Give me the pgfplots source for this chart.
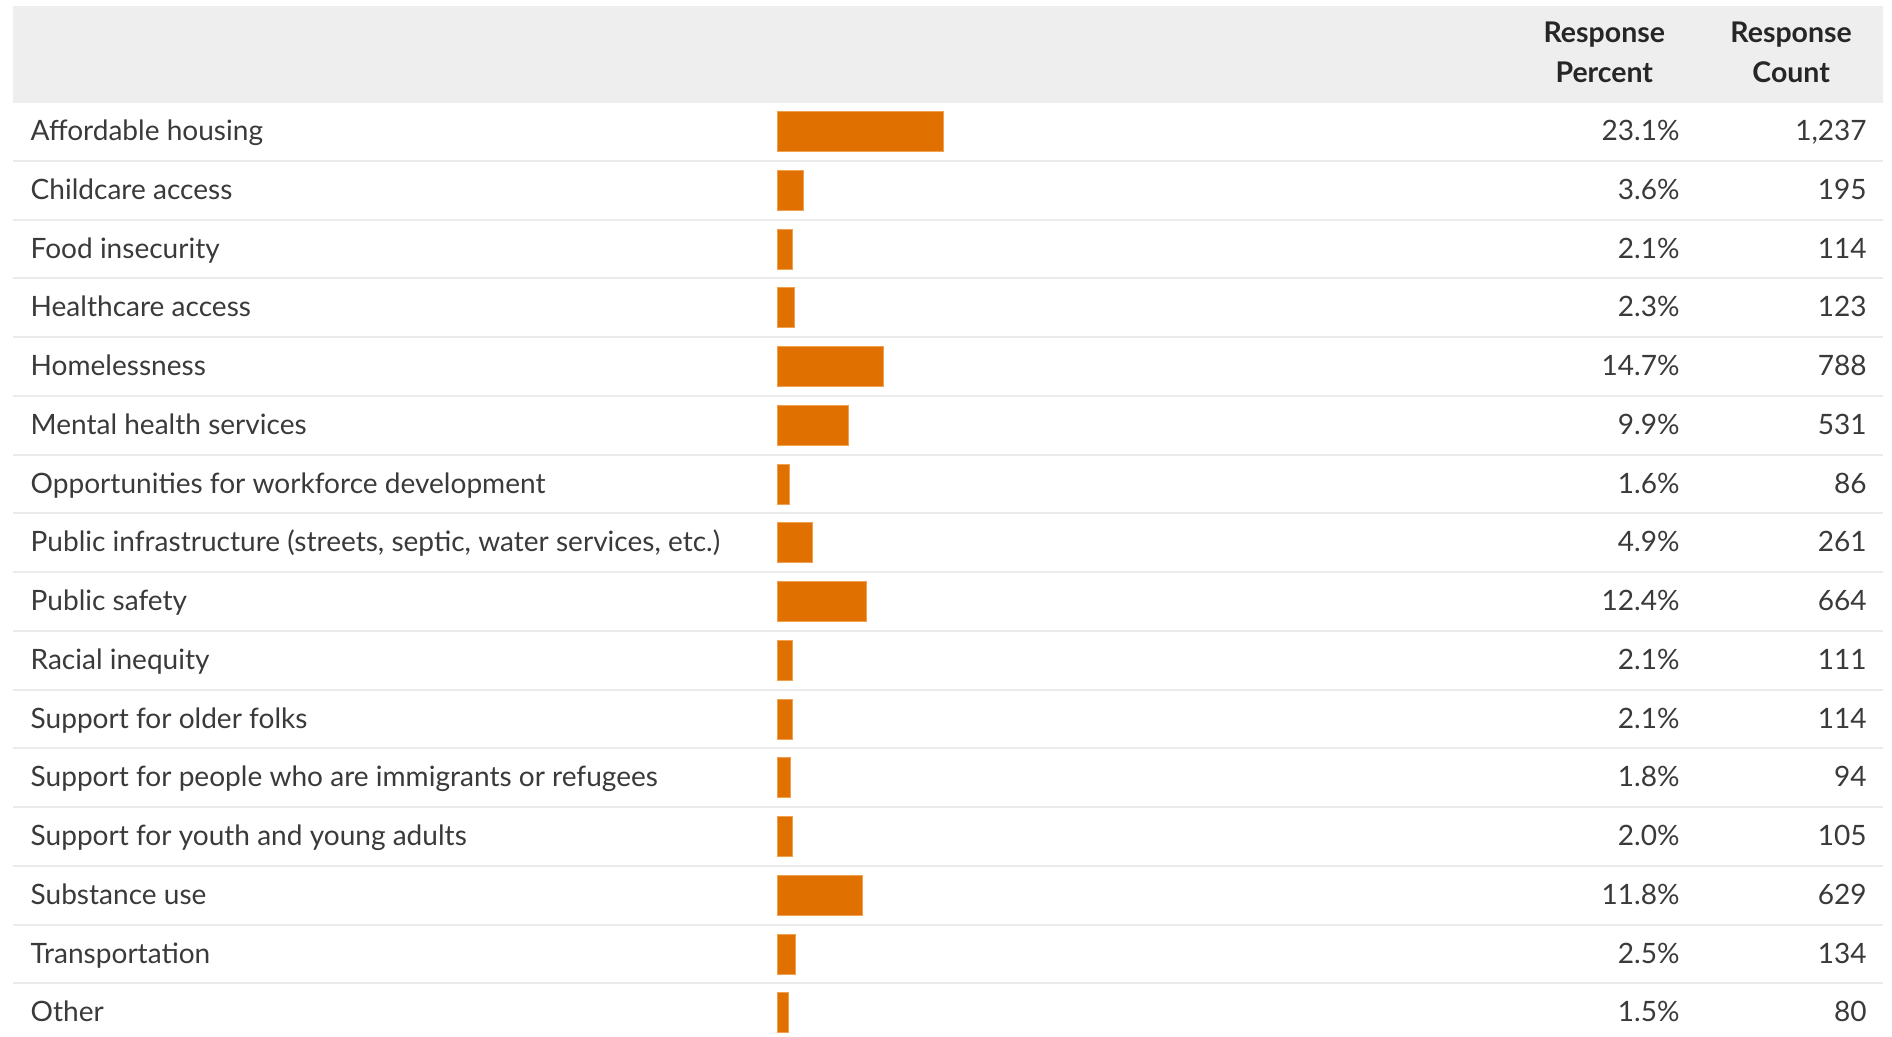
\documentclass[border=0pt]{standalone}
\usepackage{pgfplots}
\usepackage{pgfplotstable}
\pgfplotsset{compat=1.18}
\usepackage{fontspec}
\setmainfont{Lato}
\definecolor{barc}{HTML}{E07000}
\definecolor{barl}{HTML}{F0A050}
\definecolor{txt}{HTML}{3A3A3A}
\definecolor{head}{HTML}{EEEEEE}
\definecolor{sep}{HTML}{EBEBEB}
\pgfplotstableread[col sep=semicolon]{
idx;pct;count;label
0;23.1;1237;Affordable housing
1;3.6;195;Childcare access
2;2.1;114;Food insecurity
3;2.3;123;Healthcare access
4;14.7;788;Homelessness
5;9.9;531;Mental health services
6;1.6;86;Opportunities for workforce development
7;4.9;261;Public infrastructure (streets, septic, water services, etc.)
8;12.4;664;Public safety
9;2.1;111;Racial inequity
10;2.1;114;Support for older folks
11;1.8;94;Support for people who are immigrants or refugees
12;2.0;105;Support for youth and young adults
13;11.8;629;Substance use
14;2.5;134;Transportation
15;1.5;80;Other
}\data
\begin{document}
\begin{tikzpicture}
\begin{axis}[
  scale only axis, width=18.92cm, height=10.37cm,
  hide axis, clip=false,
  xmin=-108.48, xmax=155.43,
  ymin=-2.2383, ymax=15.4128, y dir=reverse,
  enlargelimits=false,
  /pgf/number format/assume math mode=true,
]
\fill[head] (axis cs:-106.71,-2.136) rectangle (axis cs:154.18,-0.485);
\pgfplotsinvokeforeach{0.5,1.5,2.5,3.5,4.5,5.5,6.5,7.5,8.5,9.5,10.5,11.5,12.5,13.5,14.5}{
  \draw[sep, line width=0.022cm] (axis cs:-106.71,#1) -- (axis cs:154.18,#1);
}
\addplot[xbar, bar width=0.68, fill=barc, draw=barl, line width=0.2pt, forget plot] table[x=pct, y=idx] {\data};
% category labels
\addplot[draw=none, mark=none, point meta=explicit symbolic,
  nodes near coords={\pgfplotspointmeta},
  nodes near coords style={anchor=base west, inner sep=0pt, text=txt, font=\fontsize{7.98}{9}\selectfont}]
  table[x expr=-104.3, y expr=\thisrow{idx}+0.157, meta=label] {\data};
% percents
\addplot[draw=none, mark=none, point meta=explicit,
  nodes near coords={\pgfmathprintnumber[fixed,precision=1,zerofill,assume math mode=true]{\pgfplotspointmeta}\%},
  nodes near coords style={anchor=base east, inner sep=0pt, text=txt, font=\fontsize{7.98}{9}\selectfont}]
  table[x expr=125.9, y expr=\thisrow{idx}+0.157, meta=pct] {\data};
% counts
\addplot[draw=none, mark=none, point meta=explicit,
  nodes near coords={\pgfmathprintnumber[fixed,precision=0,1000 sep={,},assume math mode=true]{\pgfplotspointmeta}},
  nodes near coords style={anchor=base east, inner sep=0pt, text=txt, font=\fontsize{7.98}{9}\selectfont}]
  table[x expr=152.0, y expr=\thisrow{idx}+0.157, meta=count] {\data};
% header
\node[anchor=base, inner sep=0pt, text=black!85, font=\bfseries\fontsize{8.1}{9}\selectfont] at (axis cs:115.3,-1.511) {Response};
\node[anchor=base, inner sep=0pt, text=black!85, font=\bfseries\fontsize{8.1}{9}\selectfont] at (axis cs:115.3,-0.837) {Percent};
\node[anchor=base, inner sep=0pt, text=black!85, font=\bfseries\fontsize{8.1}{9}\selectfont] at (axis cs:141.36,-1.511) {Response};
\node[anchor=base, inner sep=0pt, text=black!85, font=\bfseries\fontsize{8.1}{9}\selectfont] at (axis cs:141.36,-0.837) {Count};
\end{axis}
\pgfresetboundingbox
\path (current axis.south west) rectangle (current axis.north east);
\end{tikzpicture}
\end{document}
